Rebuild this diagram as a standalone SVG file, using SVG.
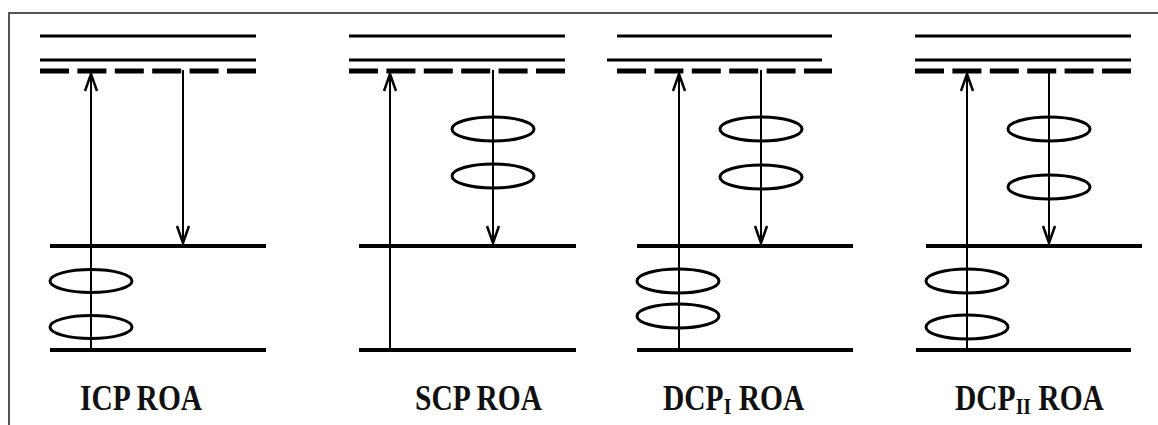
<svg xmlns="http://www.w3.org/2000/svg" width="1158" height="425" viewBox="0 0 1158 425">
  <style>
    .frame { fill: none; stroke: #555; stroke-width: 2; }
    .virt { stroke: #000; stroke-width: 3; fill: none; }
    .dash { stroke: #000; stroke-width: 5; stroke-dasharray: 29 8.4; fill: none; }
    .level { stroke: #000; stroke-width: 4; fill: none; }
    .trans { stroke: #000; stroke-width: 2; fill: none; }
    .head { stroke: #000; stroke-width: 2.5; fill: none; stroke-linejoin: miter; }
    .pol { stroke: #000; stroke-width: 3; fill: none; }
    .lbl { font-family: "Liberation Serif", "Times New Roman", serif; font-weight: bold; font-size: 36px; fill: #111; }
    .sub { font-size: 24px; }
  </style>
  <rect width="1158" height="425" fill="#fff"/>
  <path class="frame" d="M9,425 V13 H1158"/>

  <!-- ICP ROA -->
  <g id="icp">
    <line class="virt" x1="40" y1="36" x2="256" y2="36"/>
    <line class="virt" x1="40" y1="60" x2="256" y2="60"/>
    <line class="dash" x1="40" y1="71" x2="256" y2="71"/>
    <line class="level" x1="50" y1="246" x2="266" y2="246"/>
    <line class="level" x1="50" y1="350" x2="266" y2="350"/>
    <ellipse class="pol" cx="91" cy="281" rx="41" ry="11.5"/>
    <ellipse class="pol" cx="91" cy="327" rx="41" ry="11.5"/>
    <text class="lbl" transform="translate(80,410) scale(0.82,1)">ICP ROA</text>
  </g>

  <!-- SCP ROA -->
  <g id="scp">
    <line class="virt" x1="349" y1="36" x2="565" y2="36"/>
    <line class="virt" x1="349" y1="60" x2="565" y2="60"/>
    <line class="dash" x1="349" y1="71" x2="565" y2="71"/>
    <line class="level" x1="359" y1="246" x2="576" y2="246"/>
    <line class="level" x1="359" y1="350" x2="576" y2="350"/>
    <ellipse class="pol" cx="493" cy="129" rx="41" ry="12"/>
    <ellipse class="pol" cx="493" cy="176" rx="41" ry="12"/>
    <text class="lbl" transform="translate(415,410) scale(0.82,1)">SCP ROA</text>
  </g>

  <!-- DCP-I ROA -->
  <g id="dcp1">
    <line class="virt" x1="617" y1="36" x2="832" y2="36"/>
    <line class="virt" x1="607" y1="60" x2="822" y2="60"/>
    <line class="dash" x1="617" y1="71" x2="832" y2="71"/>
    <line class="level" x1="637" y1="246" x2="853" y2="246"/>
    <line class="level" x1="637" y1="350" x2="853" y2="350"/>
    <ellipse class="pol" cx="761" cy="129" rx="41" ry="12"/>
    <ellipse class="pol" cx="761" cy="177" rx="41" ry="12"/>
    <ellipse class="pol" cx="678" cy="281" rx="41" ry="12"/>
    <ellipse class="pol" cx="678" cy="316" rx="41" ry="12"/>
    <text class="lbl" transform="translate(663,410) scale(0.82,1)">DCP<tspan class="sub" dy="4">I</tspan><tspan dy="-4"> ROA</tspan></text>
  </g>

  <!-- DCP-II ROA -->
  <g id="dcp2">
    <line class="virt" x1="915" y1="36" x2="1131" y2="36"/>
    <line class="virt" x1="915" y1="60" x2="1131" y2="60"/>
    <line class="dash" x1="915" y1="71" x2="1131" y2="71"/>
    <line class="level" x1="926" y1="246" x2="1142" y2="246"/>
    <line class="level" x1="916" y1="350" x2="1131" y2="350"/>
    <ellipse class="pol" cx="1049" cy="129" rx="41" ry="12"/>
    <ellipse class="pol" cx="1049" cy="187" rx="41" ry="12"/>
    <ellipse class="pol" cx="967" cy="281" rx="41" ry="12"/>
    <ellipse class="pol" cx="967" cy="327" rx="41" ry="12"/>
    <text class="lbl" transform="translate(955,410) scale(0.82,1)">DCP<tspan class="sub" dy="4">II</tspan><tspan dy="-4"> ROA</tspan></text>
  </g>

  <!-- excitation (up) and scattering (down) transitions -->
  <g id="transitions">
    <line class="trans" x1="91" y1="350" x2="91" y2="74"/>
    <polyline class="head" points="85,91 91,74 97,91"/>
    <line class="trans" x1="183" y1="70" x2="183" y2="243"/>
    <polyline class="head" points="177,226 183,243 189,226"/>

    <line class="trans" x1="390" y1="350" x2="390" y2="74"/>
    <polyline class="head" points="384,91 390,74 396,91"/>
    <line class="trans" x1="493" y1="70" x2="493" y2="243"/>
    <polyline class="head" points="487,226 493,243 499,226"/>

    <line class="trans" x1="679" y1="350" x2="679" y2="74"/>
    <polyline class="head" points="673,91 679,74 685,91"/>
    <line class="trans" x1="761" y1="70" x2="761" y2="243"/>
    <polyline class="head" points="755,226 761,243 767,226"/>

    <line class="trans" x1="967" y1="350" x2="967" y2="74"/>
    <polyline class="head" points="961,91 967,74 973,91"/>
    <line class="trans" x1="1049" y1="70" x2="1049" y2="243"/>
    <polyline class="head" points="1043,226 1049,243 1055,226"/>
  </g>
</svg>
